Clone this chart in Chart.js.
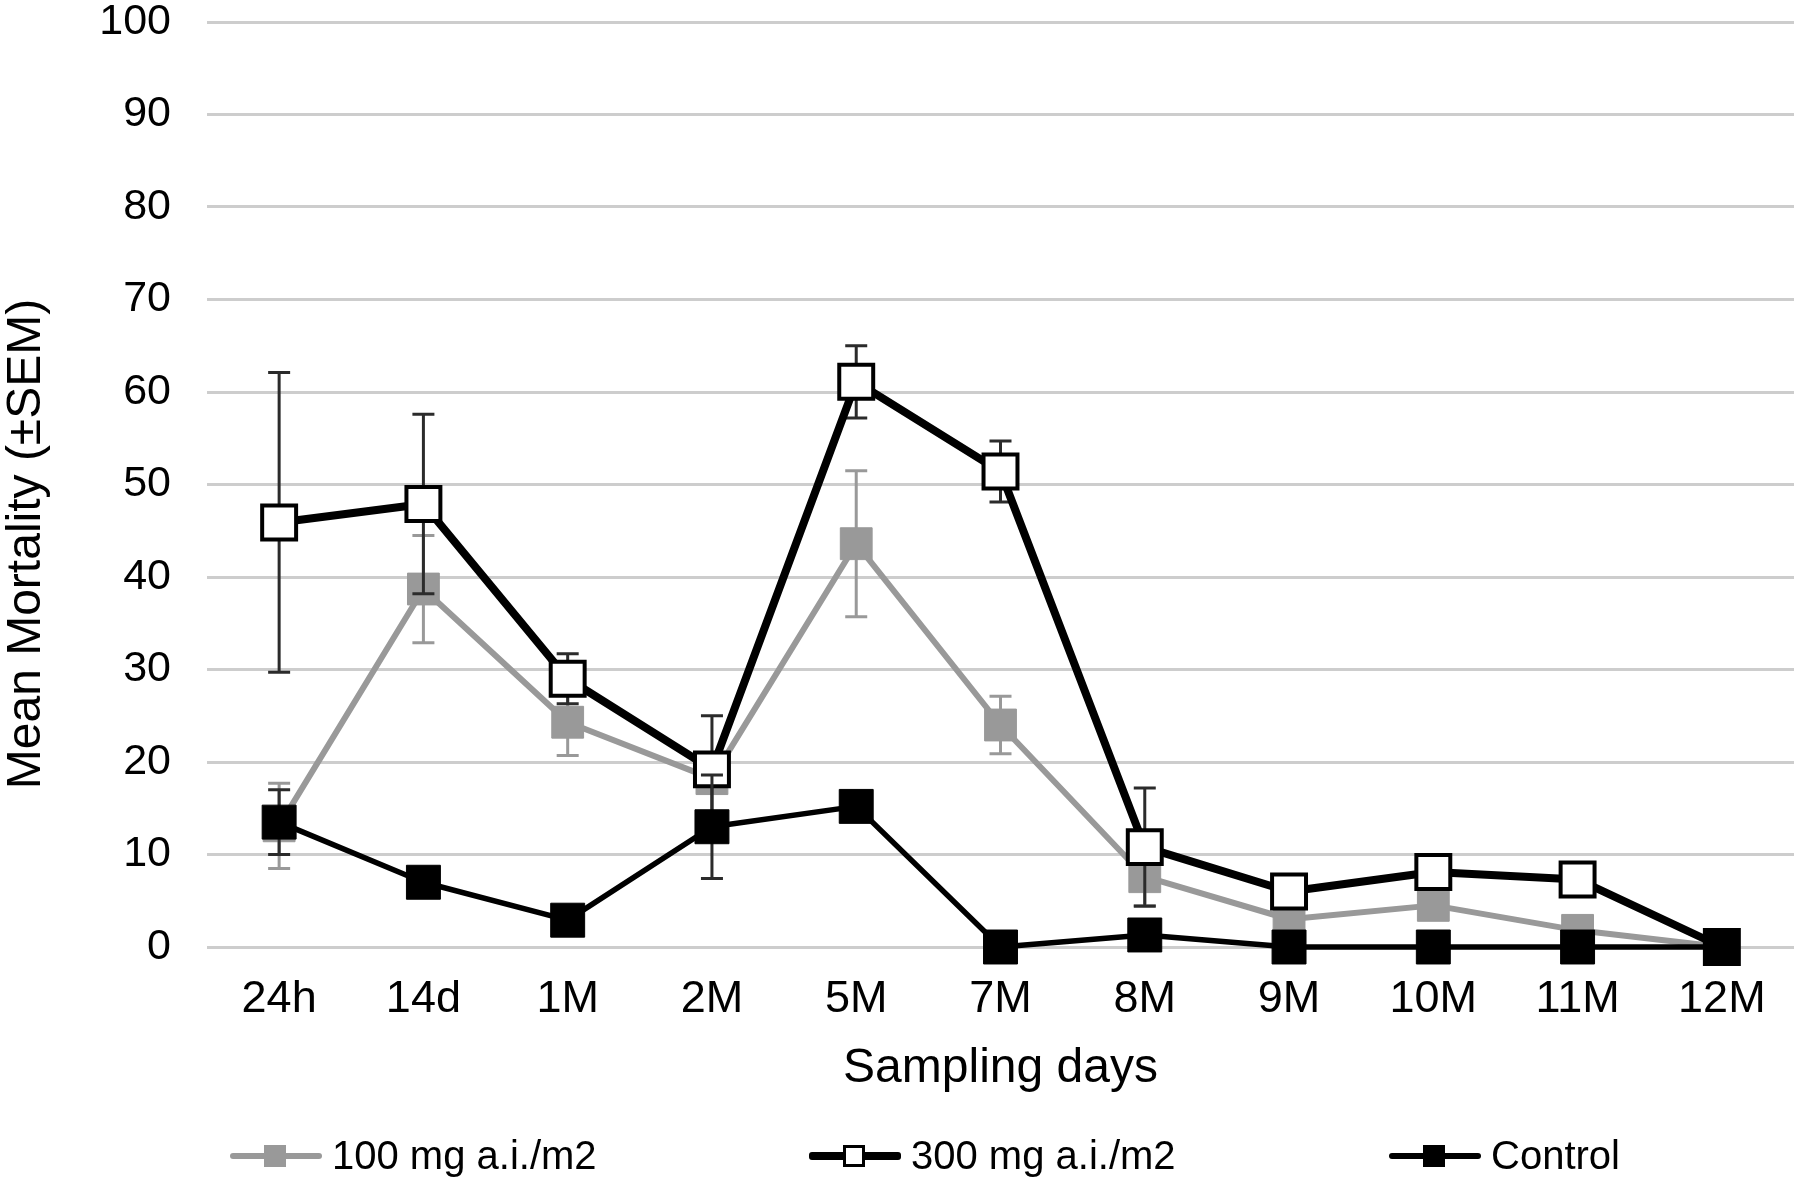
<!DOCTYPE html>
<html>
<head>
<meta charset="utf-8">
<title>Mean Mortality</title>
<script src="https://cdn.jsdelivr.net/npm/chart.js@4.4.1/dist/chart.umd.min.js"></script>
<style>
  html, body { margin: 0; padding: 0; background: #fff; overflow: hidden; }
  #wrap { position: relative; width: 1800px; height: 1181px; }
  #legend { position: absolute; left: 0; top: 1130px; width: 1800px; height: 51px;
            font-family: "Liberation Sans", Arial, sans-serif; font-size: 40px; color: #000; }
  .item { position: absolute; top: 0; height: 51px; display: flex; align-items: center; white-space: nowrap; }
  .icon { position: relative; width: 92px; height: 30px; margin-right: 10px; }
  .icon .ln { position: absolute; left: 0; right: 0; top: 12px; height: 6px; border-radius: 3px; }
  .icon .sq { position: absolute; left: 34px; top: 4px; width: 22px; height: 22px; box-sizing: border-box; }
</style>
</head>
<body>
<div id="wrap">
  <canvas id="myChart" width="1800" height="1181"></canvas>
  <div id="legend"></div>
</div>
<script>
// sampling times
const labels = ['24h', '14d', '1M', '2M', '5M', '7M', '8M', '9M', '10M', '11M', '12M']

// 100 mg a.i./m2
const mean100 = [13.1, 38.7, 24.3, 18.2, 43.6, 24.0, 7.6, 3.0, 4.5, 1.8, 0]
const sem100  = [4.6, 5.8, 3.6, 1.5, 7.9, 3.1, 3.1, 0.5, 0.8, 0.5, 0]

// 300 mg a.i./m2
const mean300 = [45.9, 47.9, 29.0, 19.2, 61.1, 51.4, 10.8, 6.0, 8.1, 7.3, 0]
const sem300  = [16.2, 9.7, 2.7, 5.8, 3.9, 3.3, 6.4, 0.5, 0.5, 0.5, 0]

// control
const meanControl = [13.5, 7.0, 2.9, 13.0, 15.2, 0, 1.3, 0, 0, 0, 0]
const semControl  = [3.5, 0.5, 0.5, 5.6, 0.5, 0, 0.5, 0, 0, 0, 0]

const yTicks = [0, 10, 20, 30, 40, 50, 60, 70, 80, 90, 100]

const family = '"Liberation Sans", Arial, sans-serif'

// error bars drawn just before each dataset so markers sit on top
const errorBars = {
	id: 'errorBars',
	beforeDatasetDraw(chart, args) {
		let ds = chart.data.datasets[args.index]
		if (!ds.sem) return
		let y = chart.scales.y
		let ctx = chart.ctx
		ctx.save()
		ctx.strokeStyle = ds.semColor
		ctx.lineWidth = 3
		args.meta.data.forEach((pt, i) => {
			let e = ds.sem[i]
			if (!e) return
			let top = y.getPixelForValue(ds.data[i] + e)
			let bot = y.getPixelForValue(ds.data[i] - e)
			ctx.beginPath()
			ctx.moveTo(pt.x, top); ctx.lineTo(pt.x, bot)
			ctx.moveTo(pt.x - 11, top); ctx.lineTo(pt.x + 11, top)
			ctx.moveTo(pt.x - 11, bot); ctx.lineTo(pt.x + 11, bot)
			ctx.stroke()
		})
		ctx.restore()
	}
}

// y title, centred a bit lower than the plot like the original
const yTitle = {
	id: 'yTitle',
	afterDraw(chart) {
		let ctx = chart.ctx
		ctx.save()
		ctx.translate(27, 544)
		ctx.rotate(-Math.PI / 2)
		ctx.font = '48px ' + family
		ctx.fillStyle = '#000'
		ctx.textAlign = 'center'
		ctx.textBaseline = 'middle'
		ctx.fillText('Mean Mortality (±SEM)', 0, 0)
		ctx.restore()
	}
}

const datasets = [{
	label: '100 mg a.i./m2',
	data: mean100,
	sem: sem100,
	semColor: '#999999',
	borderColor: '#999999',
	backgroundColor: '#999999',
	borderWidth: 6,
	pointStyle: 'rect',
	pointRadius: 22.5,
	pointBorderWidth: 1,
	pointBackgroundColor: '#999999',
	pointBorderColor: '#999999',
	order: 3,
	clip: false,
	legendSquare: { bg: '#999999', border: 'none' }
}, {
	label: '300 mg a.i./m2',
	data: mean300,
	sem: sem300,
	semColor: '#2b2b2b',
	borderColor: '#000000',
	backgroundColor: '#ffffff',
	borderWidth: 8,
	pointStyle: 'rect',
	pointRadius: 24,
	pointBorderWidth: 4,
	pointBackgroundColor: '#ffffff',
	pointBorderColor: '#000000',
	order: 2,
	clip: false,
	legendSquare: { bg: '#ffffff', border: '3px solid #000' }
}, {
	label: 'Control',
	data: meanControl,
	sem: semControl,
	semColor: '#2b2b2b',
	borderColor: '#000000',
	backgroundColor: '#000000',
	borderWidth: 5.5,
	pointStyle: 'rect',
	pointRadius: 24,
	pointBorderWidth: 1,
	pointBackgroundColor: '#000000',
	pointBorderColor: '#000000',
	order: 1,
	clip: false,
	legendSquare: { bg: '#000000', border: 'none' }
}]

var ctx = document.getElementById('myChart').getContext('2d')
var myChart = new Chart(ctx, {
	type: 'line',
	data: { labels: labels, datasets: datasets },
	plugins: [errorBars, yTitle],
	options: {
		responsive: false,
		animation: false,
		layout: { autoPadding: false, padding: { left: 0, right: 6, top: 22, bottom: 0 } },
		plugins: {
			legend: { display: false },
			tooltip: { enabled: false }
		},
		elements: { line: { borderJoinStyle: 'round', tension: 0 } },
		scales: {
			x: {
				offset: true,
				grid: { display: false, drawTicks: false },
				border: { display: false },
				ticks: { color: '#000', font: { size: 45, family: family }, padding: 26 },
				title: {
					display: true,
					text: 'Sampling days',
					color: '#000',
					font: { size: 48, family: family },
					padding: { top: 0, bottom: 83 }
				},
				afterFit(scale) {
					scale.height = 234
					scale.paddingLeft = 0
					scale.paddingRight = 0
				}
			},
			y: {
				min: 0,
				max: 100,
				afterBuildTicks(scale) { scale.ticks = yTicks.map(v => ({ value: v })) },
				ticks: { color: '#000', font: { size: 43, family: family, lineHeight: 0.9 }, padding: 3 },
				grid: { color: '#cdcdcd', lineWidth: 3, drawTicks: true, tickLength: 33, tickColor: 'rgba(0,0,0,0)' },
				border: { display: false },
				afterFit(scale) {
					scale.width = 207
					scale.paddingTop = 0
					scale.paddingBottom = 0
				}
			}
		}
	}
})

// legend laid out in fixed columns like the original
const legendStarts = [230, 809, 1389]
let legend = document.getElementById('legend')
datasets.forEach((ds, i) => {
	let item = document.createElement('div')
	item.className = 'item'
	item.style.left = legendStarts[i] + 'px'
	let icon = document.createElement('div')
	icon.className = 'icon'
	let ln = document.createElement('div')
	ln.className = 'ln'
	ln.style.background = ds.borderColor
	ln.style.height = (ds.borderWidth > 6 ? 8 : 6) + 'px'
	ln.style.top = (ds.borderWidth > 6 ? 11 : 12) + 'px'
	let sq = document.createElement('div')
	sq.className = 'sq'
	sq.style.background = ds.legendSquare.bg
	sq.style.border = ds.legendSquare.border
	icon.appendChild(ln)
	icon.appendChild(sq)
	let txt = document.createElement('span')
	txt.textContent = ds.label
	item.appendChild(icon)
	item.appendChild(txt)
	legend.appendChild(item)
})
</script>
</body>
</html>
